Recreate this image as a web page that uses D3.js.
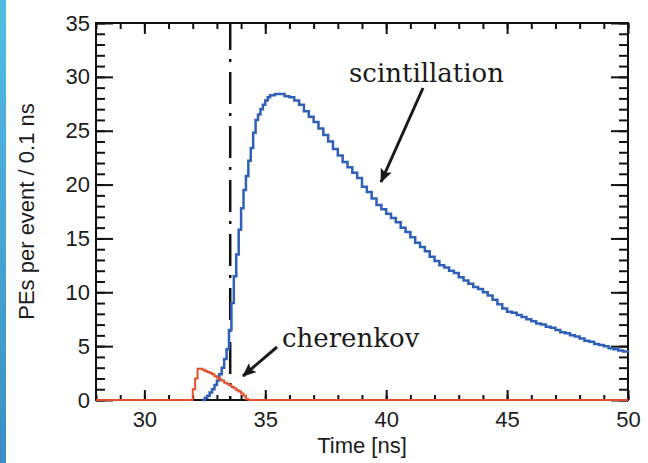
<!DOCTYPE html>
<html>
<head>
<meta charset="utf-8">
<script src="https://cdn.jsdelivr.net/npm/d3@7"></script>
<style>
  body { margin: 0; background: #fff; }
  svg { display: block; }
</style>
</head>
<body>
<div id="chart"></div>
<script>
// scintillation histogram (0.1 ns on the rise, 0.2 ns after)
var blueT = [32.4, 32.5, 32.6, 32.7, 32.8, 32.9, 33.0, 33.1, 33.2, 33.3, 33.4, 33.5, 33.6, 33.7,
  33.8, 33.9, 34.0, 34.1, 34.2, 34.3, 34.4, 34.5, 34.6, 34.7, 34.8, 34.9,
  35.0, 35.1, 35.2, 35.4, 35.6, 35.8, 36.0, 36.2, 36.4, 36.6, 36.8, 37.0, 37.2, 37.4, 37.6, 37.8,
  38.0, 38.2, 38.4, 38.6, 38.8, 39.0, 39.2, 39.4, 39.6, 39.8, 40.0, 40.2, 40.4, 40.6, 40.8,
  41.0, 41.2, 41.4, 41.6, 41.8, 42.0, 42.2, 42.4, 42.6, 42.8, 43.0, 43.2, 43.4, 43.6, 43.8,
  44.0, 44.2, 44.4, 44.6, 44.8, 45.0, 45.2, 45.4, 45.6, 45.8, 46.0, 46.2, 46.4, 46.6, 46.8,
  47.0, 47.2, 47.4, 47.6, 47.8, 48.0, 48.2, 48.4, 48.6, 48.8, 49.0, 49.2, 49.4, 49.6, 49.8, 50.0];
var blueV = [0.0, 0.2, 0.4, 0.7, 1.0, 1.4, 1.8, 2.4, 3.0, 3.8, 4.7, 6.5, 9.0, 11.5,
  13.5, 15.8, 17.8, 19.5, 20.8, 22.2, 23.4, 24.8, 26.0, 26.5, 27.0, 27.4,
  27.8, 28.1, 28.3, 28.4, 28.4, 28.2, 28.1, 27.8, 27.4, 26.8, 26.3, 25.8, 25.2, 24.6, 24.0, 23.3,
  22.7, 22.1, 21.6, 21.1, 20.6, 19.8, 19.3, 18.7, 18.1, 17.7, 17.3, 16.9, 16.5, 16.0, 15.6,
  15.1, 14.6, 14.2, 13.8, 13.3, 12.9, 12.5, 12.3, 12.0, 11.8, 11.4, 11.1, 10.8, 10.5, 10.3,
  10.0, 9.7, 9.3, 8.9, 8.5, 8.2, 8.1, 7.9, 7.7, 7.5, 7.3, 7.1, 7.0, 6.8, 6.7,
  6.5, 6.3, 6.2, 6.0, 5.9, 5.7, 5.5, 5.4, 5.2, 5.1, 5.0, 4.8, 4.7, 4.6, 4.5, 4.4];

// cherenkov histogram (0.1 ns steps)
var redT = [28.0, 32.0, 32.1, 32.2, 32.3, 32.4, 32.5, 32.6, 32.7, 32.8, 32.9, 33.0, 33.1,
  33.2, 33.3, 33.4, 33.5, 33.6, 33.7, 33.8, 33.9, 34.0, 34.1, 34.2, 34.3, 50.0];
var redV = [0, 1.0, 2.0, 2.9, 2.9, 2.8, 2.7, 2.6, 2.5, 2.4, 2.2, 2.1, 1.9,
  1.8, 1.6, 1.5, 1.4, 1.2, 1.1, 0.9, 0.8, 0.6, 0.4, 0.1, 0, 0];

var xMajor = [30, 35, 40, 45, 50];
var yMajor = [0, 5, 10, 15, 20, 25, 30, 35];
var triggerT = 33.55;

var W = 648, H = 463;
var margin = {top: 23, right: 20, bottom: 63, left: 96},
    width = W - margin.left - margin.right,
    height = H - margin.top - margin.bottom;

var root = d3.select("#chart").append("svg")
    .attr("width", W)
    .attr("height", H);

// slide edge on the left
var defs = root.append("defs");
var grad = defs.append("linearGradient")
    .attr("id", "edge").attr("x1", 0).attr("y1", 0).attr("x2", 0).attr("y2", 1);
grad.append("stop").attr("offset", "0%").attr("stop-color", "#52bde3");
grad.append("stop").attr("offset", "100%").attr("stop-color", "#3a8fc6");
root.append("rect").attr("x", 0).attr("y", 0).attr("width", 6).attr("height", H)
    .attr("fill", "url(#edge)");

var mk = defs.append("marker")
    .attr("id", "head")
    .attr("markerUnits", "userSpaceOnUse")
    .attr("markerWidth", 16).attr("markerHeight", 12)
    .attr("refX", 13).attr("refY", 6)
    .attr("orient", "auto");
mk.append("path").attr("d", "M0,0 L14,6 L0,12 L3,6 Z").attr("fill", "#1a1a1a");

var svg = root.append("g")
    .attr("transform", "translate(" + margin.left + "," + margin.top + ")");

var x = d3.scaleLinear().domain([28, 50]).range([0, width]);
var y = d3.scaleLinear().domain([0, 35]).range([height, 0]);

function styleAxis(g) {
  g.select(".domain").remove();
  g.selectAll(".tick line").attr("stroke", "#111").attr("stroke-width", 2);
  g.selectAll("text").attr("font-family", "Liberation Sans, Arial, sans-serif")
    .attr("font-size", 22).attr("fill", "#1c1c1c");
}

var xMinor = d3.range(28, 50.01, 1);
var yMinor = d3.range(0, 35.01, 1);

// frame
svg.append("rect")
  .attr("width", width).attr("height", height)
  .attr("fill", "none").attr("stroke", "#111").attr("stroke-width", 2);

// minor ticks on all four sides
svg.append("g").attr("transform", "translate(0," + height + ")")
  .call(d3.axisBottom(x).tickValues(xMinor).tickSize(-5).tickFormat(""))
  .call(styleAxis);
svg.append("g")
  .call(d3.axisTop(x).tickValues(xMinor).tickSize(-6).tickFormat(""))
  .call(styleAxis);
svg.append("g")
  .call(d3.axisLeft(y).tickValues(yMinor).tickSize(-9).tickFormat(""))
  .call(styleAxis);
svg.append("g").attr("transform", "translate(" + width + ",0)")
  .call(d3.axisRight(y).tickValues(yMinor).tickSize(-9).tickFormat(""))
  .call(styleAxis);

// major ticks + labels
svg.append("g").attr("transform", "translate(0," + height + ")")
  .call(d3.axisBottom(x).tickValues(xMajor).tickSize(-10).tickPadding(11).tickFormat(d3.format("d")))
  .call(styleAxis);
svg.append("g")
  .call(d3.axisTop(x).tickValues(xMajor).tickSize(-11).tickFormat(""))
  .call(styleAxis);
svg.append("g")
  .call(d3.axisLeft(y).tickValues(yMajor).tickSize(-17).tickPadding(6).tickFormat(d3.format("d")))
  .call(styleAxis);
svg.append("g").attr("transform", "translate(" + width + ",0)")
  .call(d3.axisRight(y).tickValues(yMajor).tickSize(-17).tickFormat(""))
  .call(styleAxis);

// trigger time, dash-dot
svg.append("line")
  .attr("x1", x(triggerT)).attr("x2", x(triggerT))
  .attr("y1", 0).attr("y2", height)
  .attr("stroke", "#111").attr("stroke-width", 2.5)
  .attr("stroke-dasharray", "32,9,3,10").attr("stroke-dashoffset", 5);

var line = d3.line()
  .x(function(d) { return x(d[0]); })
  .y(function(d) { return y(d[1]); })
  .curve(d3.curveStepAfter);

svg.append("path")
  .datum(d3.zip(blueT, blueV))
  .attr("d", line)
  .attr("fill", "none").attr("stroke", "#2f5fb6").attr("stroke-width", 2.5);

svg.append("path")
  .datum(d3.zip(redT, redV))
  .attr("d", line)
  .attr("fill", "none").attr("stroke", "#e4502c").attr("stroke-width", 2);

// axis titles
svg.append("text")
  .attr("x", width / 2).attr("y", height + 53)
  .attr("text-anchor", "middle")
  .attr("font-family", "Liberation Sans, Arial, sans-serif").attr("font-size", 22)
  .attr("fill", "#1c1c1c")
  .text("Time [ns]");
svg.append("text")
  .attr("transform", "translate(" + (34 - margin.left) + "," + (height / 2) + ") rotate(-90)")
  .attr("text-anchor", "middle")
  .attr("font-family", "Liberation Sans, Arial, sans-serif").attr("font-size", 22)
  .attr("fill", "#1c1c1c")
  .text("PEs per event / 0.1 ns");

// annotations
svg.append("text")
  .attr("x", 349 - margin.left).attr("y", 82 - margin.top)
  .attr("font-family", "DejaVu Serif, serif").attr("font-size", 26).attr("fill", "#1a1a1a")
  .text("scintillation");
svg.append("line")
  .attr("x1", 423 - margin.left).attr("y1", 88 - margin.top)
  .attr("x2", 381 - margin.left).attr("y2", 182 - margin.top)
  .attr("stroke", "#1a1a1a").attr("stroke-width", 3)
  .attr("marker-end", "url(#head)");

svg.append("text")
  .attr("x", 282 - margin.left).attr("y", 347 - margin.top)
  .attr("font-family", "DejaVu Serif, serif").attr("font-size", 26).attr("fill", "#1a1a1a")
  .text("cherenkov");
svg.append("line")
  .attr("x1", 277 - margin.left).attr("y1", 347 - margin.top)
  .attr("x2", 243 - margin.left).attr("y2", 376 - margin.top)
  .attr("stroke", "#1a1a1a").attr("stroke-width", 3)
  .attr("marker-end", "url(#head)");
</script>
</body>
</html>
